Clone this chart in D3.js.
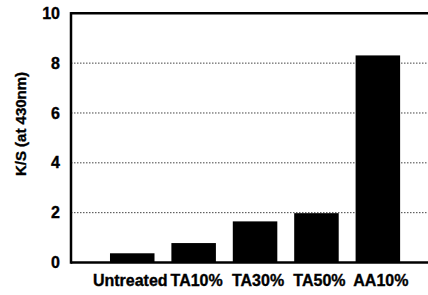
<!DOCTYPE html>
<html><head><meta charset="utf-8">
<script src="https://cdn.jsdelivr.net/npm/d3@7"></script>
<style>body{margin:0;background:#fff}svg{display:block}text{font-family:"Liberation Sans",Arial,sans-serif;font-weight:bold;fill:#000}</style>
</head><body><svg id="c" width="428" height="295"></svg>
<script>
const categories = ["Untreated","TA10%","TA30%","TA50%","AA10%"];
const values = [0.37, 0.78, 1.65, 1.98, 8.31];
const yTicks = [0,2,4,6,8,10];
const yTitle = "K/S (at 430nm)";

const svg = d3.select("#c");
const W = 428, left = 71;
const y = d3.scaleLinear().domain([0,10]).range([262.5,13.3]);
const x = d3.scaleBand().domain(categories).range([93.1,417]).padding(0.275);
const fontCss = "Liberation Sans, Arial, sans-serif";

// gridlines
svg.append("g").selectAll("line").data(yTicks.filter(d=>d>0 && d<10)).join("line")
  .attr("x1",left).attr("x2",W).attr("y1",d=>y(d)).attr("y2",d=>y(d))
  .attr("stroke","#444").attr("stroke-width",1).attr("stroke-dasharray","1.5,1.5");

// bars
svg.append("g").selectAll("rect").data(values).join("rect")
  .attr("x",(d,i)=>x(categories[i])).attr("width",x.bandwidth())
  .attr("y",d=>y(d)).attr("height",d=>y(0)-y(d)).attr("fill","#000");

// frame
svg.append("line").attr("x1",left).attr("x2",W).attr("y1",y(10)).attr("y2",y(10)).attr("stroke","#000").attr("stroke-width",2.5);
svg.append("line").attr("x1",left).attr("x2",W).attr("y1",y(0)).attr("y2",y(0)).attr("stroke","#000").attr("stroke-width",2.5);
svg.append("line").attr("x1",left).attr("x2",left).attr("y1",y(10)-1.25).attr("y2",y(0)+1.25).attr("stroke","#000").attr("stroke-width",2.5);

function styleText(sel){
  sel.style("font-size","16px").style("font-family",fontCss).style("font-weight","bold")
     .attr("fill","#000").attr("stroke","#000").attr("stroke-width",0.35);
}

// y axis labels
const yAxis = d3.axisLeft(y).tickValues(yTicks).tickSize(0).tickPadding(11);
const ga = svg.append("g").attr("transform",`translate(${left},0)`).call(yAxis);
ga.select(".domain").remove();
styleText(ga.selectAll("text"));

// x labels
const xAxis = d3.axisBottom(x).tickSize(0).tickPadding(12);
const gx = svg.append("g").attr("transform",`translate(3,${y(0)})`).call(xAxis);
gx.select(".domain").remove();
styleText(gx.selectAll("text"));
gx.selectAll("text").attr("dx",(d,i)=> i===0 ? -5 : 0);

// y title
const t = svg.append("text").attr("transform","translate(26,124) rotate(-90)").attr("text-anchor","middle").text(yTitle);
styleText(t);
t.style("font-size","15px");
</script></body></html>
